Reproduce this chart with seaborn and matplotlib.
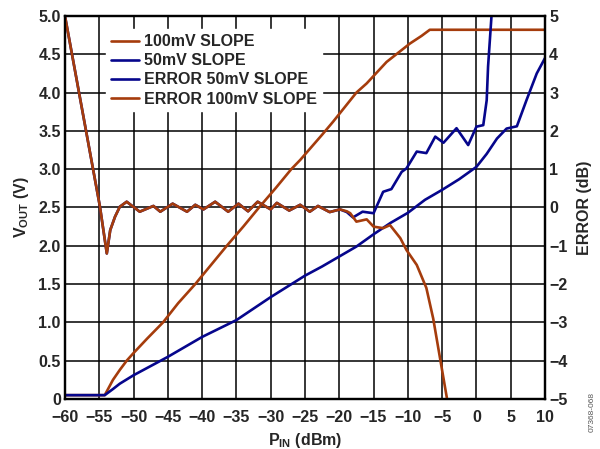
import matplotlib

matplotlib.use("Agg")
import matplotlib.pyplot as plt
import seaborn as sns

# Values
# VOUT curves (left axis, V)
pin_100 = [-60, -54.2, -53, -52, -51, -50, -48, -45.7, -43.5, -41, -38.7, -36.4,
           -34, -31.7, -29.3, -27, -25.7, -22.5, -20.9, -17.5, -16, -13.1, -9.7,
           -8, -6.8, 10]
vout_100 = [0.05, 0.05, 0.25, 0.38, 0.5, 0.6, 0.79, 1.0, 1.25, 1.5, 1.75, 2.0,
            2.25, 2.5, 2.75, 3.0, 3.12, 3.45, 3.62, 4.0, 4.12, 4.4, 4.64,
            4.74, 4.82, 4.82]

pin_50 = [-60, -54.2, -53, -52, -50, -47.5, -45, -42.5, -40, -37.5, -35, -32.5,
          -30, -27.5, -25, -22.5, -20, -17.5, -15, -12.5, -10, -7.5, -5, -2.5,
          0, 1.5, 3, 4.4, 5.9, 7.3, 8.8, 10]
vout_50 = [0.05, 0.05, 0.13, 0.2, 0.31, 0.43, 0.55, 0.68, 0.81, 0.92, 1.03, 1.18,
           1.33, 1.47, 1.61, 1.73, 1.86, 1.99, 2.15, 2.3, 2.43, 2.6, 2.73, 2.87,
           3.03, 3.2, 3.4, 3.53, 3.56, 3.9, 4.25, 4.45]

# Error curves (right axis, dB); both share the same shape below -19 dBm
pin_err_low = [-60, -54.9, -53.9, -53.4, -52.7, -52, -51, -49.1, -47.1, -46.1,
               -44.3, -42.2, -41, -39.8, -38.1, -36.2, -34.7, -33.3, -31.9, -30.0,
               -29.1, -27.3, -25.7, -24.3, -23.1, -21.4, -19.9]
err_low = [5, 0.02, -1.2, -0.59, -0.24, 0.02, 0.15, -0.11, 0.04, -0.11,
           0.1, -0.11, 0.07, -0.05, 0.15, -0.11, 0.1, -0.1, 0.15, -0.05,
           0.12, -0.08, 0.07, -0.11, 0.04, -0.12, -0.05]

pin_err50_high = [-18.9, -18, -16.6, -15, -13.6, -12.4, -10.9, -10.2, -8.7, -7.3,
                  -6.0, -4.8, -2.9, -1.2, 0, 1.0, 1.5, 1.7, 2.2, 2.5]
err50_high = [-0.12, -0.26, -0.11, -0.15, 0.41, 0.48, 0.93, 1.02, 1.46, 1.42,
              1.85, 1.69, 2.07, 1.63, 2.11, 2.15, 2.8, 3.68, 5.0, 6.0]

pin_err100_high = [-18.9, -18.4, -17.5, -16, -15, -13.6, -12.6, -11.1, -10.2,
                   -8.7, -7.3, -6.3, -5.3, -4.3, -4.0]
err100_high = [-0.1, -0.15, -0.37, -0.31, -0.5, -0.54, -0.46, -0.8, -1.11,
               -1.5, -2.1, -2.9, -3.94, -4.98, -5.4]

pin_err50 = pin_err_low + pin_err50_high
err_50 = err_low + err50_high
pin_err100 = pin_err_low + pin_err100_high
err_100 = err_low + err100_high

x_ticks = list(range(-60, 15, 5))
x_tick_labels = ["\u221260", "\u221255", "\u221250", "\u221245", "\u221240",
                 "\u221235", "\u221230", "\u221225", "\u221220", "\u221215",
                 "\u221210", "\u22125", "0", "5", "10"]
v_ticks = [0, 0.5, 1.0, 1.5, 2.0, 2.5, 3.0, 3.5, 4.0, 4.5, 5.0]
v_tick_labels = ["0", "0.5", "1.0", "1.5", "2.0", "2.5", "3.0", "3.5", "4.0",
                 "4.5", "5.0"]
err_ticks = list(range(-5, 6))
err_tick_labels = ["\u22125", "\u22124", "\u22123", "\u22122", "\u22121", "0",
                   "1", "2", "3", "4", "5"]

orange = "#A53C0C"
navy = "#06068C"
fs = 11.5

sns.set_theme(style="white")
plt.rcParams["font.family"] = ["Liberation Sans", "DejaVu Sans"]
plt.rcParams["font.weight"] = "bold"
plt.rcParams["mathtext.fontset"] = "custom"
plt.rcParams["mathtext.bf"] = "Liberation Sans:bold"
plt.rcParams["mathtext.rm"] = "Liberation Sans:bold"

fig = plt.figure(figsize=(6.0, 4.49), dpi=100)
ax = fig.add_axes([0.1083, 0.1114, 0.8, 0.853])
ax2 = ax.twinx()

lw = 1.9
line_kw = dict(lw=lw, sort=False, estimator=None, legend=False,
               solid_joinstyle="round", solid_capstyle="round")
sns.lineplot(x=pin_100, y=vout_100, ax=ax, color=orange, label="100mV SLOPE", **line_kw)
sns.lineplot(x=pin_50, y=vout_50, ax=ax, color=navy, label="50mV SLOPE", **line_kw)
sns.lineplot(x=pin_err50, y=err_50, ax=ax2, color=navy, label="ERROR 50mV SLOPE", **line_kw)
sns.lineplot(x=pin_err100, y=err_100, ax=ax2, color=orange, label="ERROR 100mV SLOPE", **line_kw)

ax.set_xlim(-60, 10)
ax.set_ylim(0, 5)
ax2.set_ylim(-5, 5)

ax.set_xticks(x_ticks)
ax.set_xticklabels(x_tick_labels)
ax.set_yticks(v_ticks)
ax.set_yticklabels(v_tick_labels)
ax2.set_yticks(err_ticks)
ax2.set_yticklabels(err_tick_labels)

for a in (ax, ax2):
    a.tick_params(length=0, labelsize=fs, pad=3)
    for lab in a.get_xticklabels() + a.get_yticklabels():
        lab.set_fontweight("bold")
    for s in a.spines.values():
        s.set_color("black")
        s.set_linewidth(1.6)
ax.tick_params(axis="x", pad=8)

ax.grid(True, color="black", linewidth=1.1)
ax2.grid(False)
ax.set_axisbelow(True)

ax.set_xlabel(r"P$_{\mathbf{IN}}$ (dBm)", fontsize=fs, fontweight="bold", labelpad=4)
ax.set_ylabel(r"V$_{\mathbf{OUT}}$ (V)", fontsize=fs, fontweight="bold", labelpad=5)
ax2.set_ylabel("ERROR (dB)", fontsize=fs, fontweight="bold", labelpad=7)

handles = ax.get_lines()[:2] + ax2.get_lines()[:2]
labels = ["100mV SLOPE", "50mV SLOPE", "ERROR 50mV SLOPE", "ERROR 100mV SLOPE"]
leg = ax2.legend(handles, labels, loc="upper left", bbox_to_anchor=(0.085, 0.965),
                 frameon=True, fancybox=False, framealpha=1, facecolor="white",
                 edgecolor="white", fontsize=fs, handlelength=1.75,
                 handletextpad=0.35, labelspacing=0.26, borderpad=0.3,
                 borderaxespad=0)
for t in leg.get_texts():
    t.set_fontweight("bold")

fig.text(0.987, 0.082, "07368-068", rotation=90, fontsize=6, color="#555555",
         ha="center", va="center", fontweight="normal")

fig.savefig("out.png", dpi=100)
